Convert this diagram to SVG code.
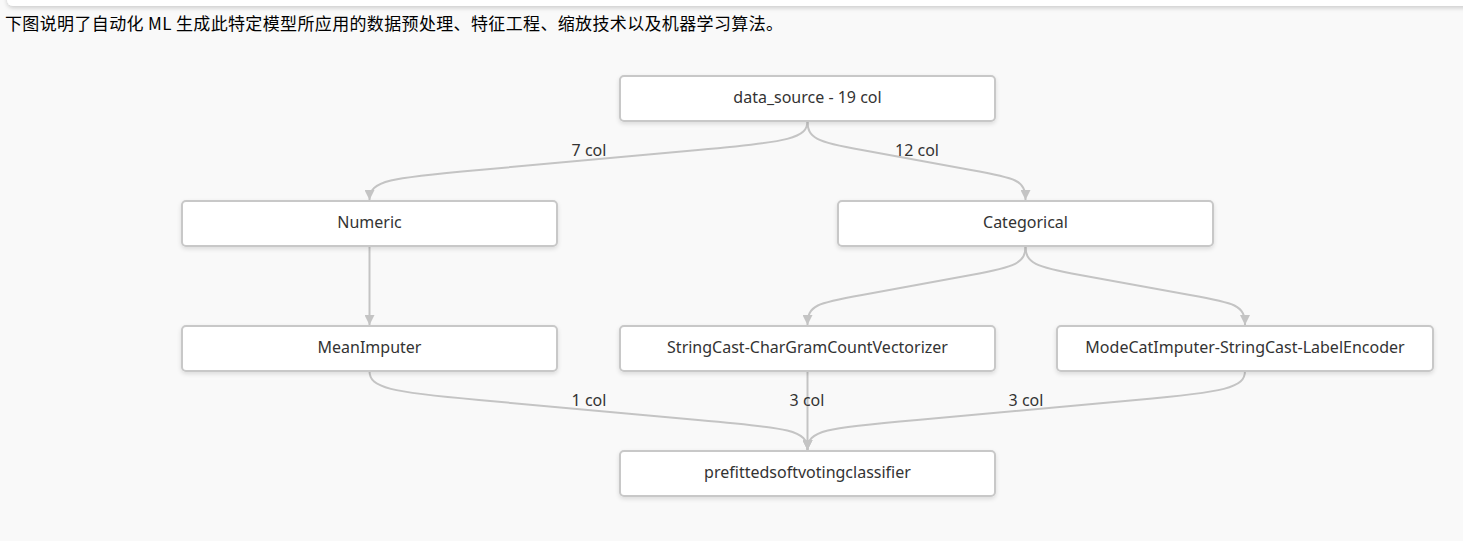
<svg xmlns="http://www.w3.org/2000/svg" width="1463" height="541" viewBox="0 0 1463 541">
<defs>
<filter id="sh" x="-10%" y="-30%" width="120%" height="170%">
<feDropShadow dx="0" dy="2" stdDeviation="2" flood-color="#000" flood-opacity="0.12"/>
</filter>
<filter id="tsh" x="-5%" y="-100%" width="110%" height="400%">
<feDropShadow dx="0" dy="2" stdDeviation="2" flood-color="#000" flood-opacity="0.18"/>
</filter>
<marker id="arr" viewBox="0 0 10 10" refX="10" refY="5" markerWidth="10" markerHeight="10" markerUnits="userSpaceOnUse" orient="auto">
<path d="M0,0 L10,5 L0,10 z" fill="#c4c4c4"/>
</marker>
</defs>
<style>
.node rect{fill:#fff;stroke:#c8c8c8;stroke-width:2;filter:url(#sh)}
.node text{font-family:"Segoe UI","Noto Sans","Open Sans",sans-serif;font-size:16px;fill:#333;text-anchor:middle;dominant-baseline:central}
.edge{fill:none;stroke:#c4c4c4;stroke-width:2}
.lbl{font-family:"Segoe UI","Noto Sans","Open Sans",sans-serif;font-size:16px;fill:#333;text-anchor:middle}
.hdr{font-family:"Microsoft YaHei","Noto Sans CJK SC",sans-serif;font-size:17px;fill:#000}
</style>
<rect x="0" y="0" width="1463" height="541" fill="#f9f9f9"/>
<rect x="7" y="-20" width="1470" height="26" rx="6" fill="#fff" filter="url(#tsh)"/>
<text class="hdr" x="5" y="30" textLength="778" lengthAdjust="spacing">下图说明了自动化 ML 生成此特定模型所应用的数据预处理、特征工程、缩放技术以及机器学习算法。</text>

<g id="connectors">
<path class="edge" marker-end="url(#arr)" d="M807.5,121 C807.5,138 790,142 698,150 L479,170 C390,178 369.5,180 369.5,200"/>
<path class="edge" marker-end="url(#arr)" d="M807.5,121 C807.5,138 816,142 862,150 L971,170 C1016,178 1025.5,180 1025.5,200"/>
<path class="edge" marker-end="url(#arr)" d="M369.5,246 L369.5,325"/>
<path class="edge" marker-end="url(#arr)" d="M1025.5,246 C1025.5,263 1016,267 971,275 L862,295 C817,303 807.5,305 807.5,325"/>
<path class="edge" marker-end="url(#arr)" d="M1025.5,246 C1025.5,263 1035,267 1080,275 L1190,295 C1235,303 1245,305 1245,325"/>
<path class="edge" marker-end="url(#arr)" d="M369.5,371 C369.5,388 390,392 479,400 L698,420 C790,428 807.5,430 807.5,450"/>
<path class="edge" marker-end="url(#arr)" d="M807.5,371 L807.5,450"/>
<path class="edge" marker-end="url(#arr)" d="M1245,371 C1245,388 1225,392 1136,400 L917,420 C825,428 807.5,430 807.5,450"/>
<text class="lbl" x="589" y="156">7 col</text>
<text class="lbl" x="917" y="156">12 col</text>
<text class="lbl" x="589" y="406">1 col</text>
<text class="lbl" x="807" y="406">3 col</text>
<text class="lbl" x="1026" y="406">3 col</text>
</g>

<g id="n-data-source" class="node"><rect x="620" y="76" width="375" height="45" rx="4"/><text x="807.5" y="96.5">data_source - 19 col</text></g>
<g id="n-numeric" class="node"><rect x="182" y="201" width="375" height="45" rx="4"/><text x="369.5" y="221.5">Numeric</text></g>
<g id="n-categorical" class="node"><rect x="838" y="201" width="375" height="45" rx="4"/><text x="1025.5" y="221.5">Categorical</text></g>
<g id="n-meanimputer" class="node"><rect x="182" y="326" width="375" height="45" rx="4"/><text x="369.5" y="346.5">MeanImputer</text></g>
<g id="n-stringcast" class="node"><rect x="620" y="326" width="375" height="45" rx="4"/><text x="807.5" y="346.5">StringCast-CharGramCountVectorizer</text></g>
<g id="n-modecat" class="node"><rect x="1057" y="326" width="376" height="45" rx="4"/><text x="1245" y="346.5">ModeCatImputer-StringCast-LabelEncoder</text></g>
<g id="n-prefitted" class="node"><rect x="620" y="451" width="375" height="45" rx="4"/><text x="807.5" y="471.5">prefittedsoftvotingclassifier</text></g>
</svg>
